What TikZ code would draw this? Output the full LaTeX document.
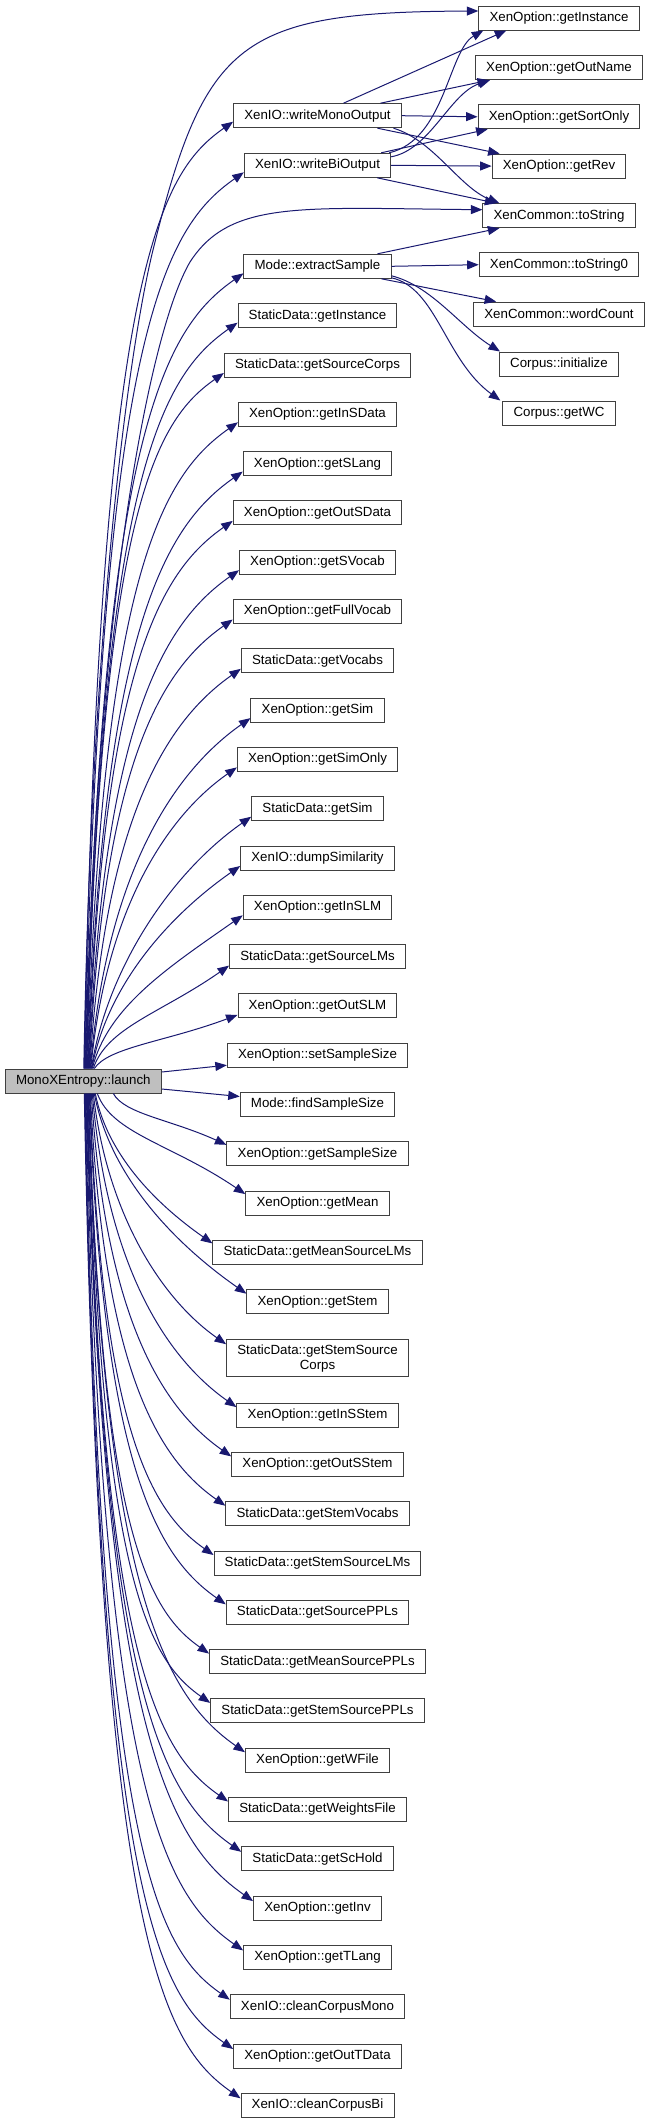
\documentclass[tikz,border=0pt]{standalone}
\usepackage{fontspec}
\setmainfont{Liberation Sans}
\usetikzlibrary{arrows.meta,calc}
\definecolor{callblue}{HTML}{191970}

\begin{document}
\begin{tikzpicture}[
  x=1pt, y=-1pt,
  fn/.style={rectangle, draw=black!75, line width=1pt, fill=white,
    font=\fontsize{13.3}{15}\selectfont, inner xsep=10.7pt, inner ysep=4.9pt,
    minimum height=24pt, align=center},
  root/.style={fn, fill=black!25},
  call/.style={draw=callblue, line width=1pt, -{Triangle[length=11.5pt, width=9pt]}},
  upcall/.style={to path={let \p1=(\tikztostart), \p2=(\tikztotarget) in
    .. controls ({\x1+0.1*(\x2-(\x1))}, {\y1+max(\y2-(\y1)-(\x2-(\x1)), 0.4*(\y2-(\y1)))})
    and ({\x2-0.5*(\x2-(\x1))}, {\y2-min(0.35*(\x2-(\x1)), 0.5*(\y2-(\y1)))}) .. (\p2)}},
  downcall/.style={to path={let \p1=(\tikztostart), \p2=(\tikztotarget) in
    .. controls ({\x1+0.1*(\x2-(\x1))}, {\y1-max(\y1-(\y2)-(\x2-(\x1)), 0.4*(\y1-(\y2)))})
    and ({\x2-0.5*(\x2-(\x1))}, {\y2+min(0.35*(\x2-(\x1)), 0.5*(\y1-(\y2)))}) .. (\p2)}}
]
\useasboundingbox (0,0) rectangle (650,2123);

% Caller
\node[root] (launch) at (83.3, 1081) {MonoXEntropy::launch};

% Right column
\node[fn] (xoInst) at (559, 18) {XenOption::getInstance};
\node[fn] (xoOutName) at (559, 67.7) {XenOption::getOutName};
\node[fn] (xoSort) at (559, 116.8) {XenOption::getSortOnly};
\node[fn] (xoRev) at (559, 166.1) {XenOption::getRev};
\node[fn] (xcStr) at (559, 215.7) {XenCommon::toString};
\node[fn] (xcStr0) at (559, 264.7) {XenCommon::toString0};
\node[fn] (xcWords) at (559, 314.1) {XenCommon::wordCount};
\node[fn] (cpInit) at (559, 364) {Corpus::initialize};
\node[fn] (cpWC) at (559, 413) {Corpus::getWC};

% Middle column
\node[fn] (ioMono) at (317.5, 115.7) {XenIO::writeMonoOutput};
\node[fn] (ioBi) at (317.5, 165.3) {XenIO::writeBiOutput};
\node[fn] (mdExtract) at (317.5, 266.3) {Mode::extractSample};
\node[fn] (sdInst) at (317.5, 315.7) {StaticData::getInstance};
\node[fn] (sdSrcCorps) at (317.5, 365.0) {StaticData::getSourceCorps};
\node[fn] (xoInSData) at (317.5, 414.3) {XenOption::getInSData};
\node[fn] (xoSLang) at (317.5, 463.6) {XenOption::getSLang};
\node[fn] (xoOutSData) at (317.5, 512.9) {XenOption::getOutSData};
\node[fn] (xoSVocab) at (317.5, 562.2) {XenOption::getSVocab};
\node[fn] (xoFullVocab) at (317.5, 611.5) {XenOption::getFullVocab};
\node[fn] (sdVocabs) at (317.5, 660.8) {StaticData::getVocabs};
\node[fn] (xoSim) at (317.5, 710.1) {XenOption::getSim};
\node[fn] (xoSimOnly) at (317.5, 759.4) {XenOption::getSimOnly};
\node[fn] (sdSim) at (317.5, 808.7) {StaticData::getSim};
\node[fn] (ioDumpSim) at (317.5, 858.0) {XenIO::dumpSimilarity};
\node[fn] (xoInSLM) at (317.5, 907.3) {XenOption::getInSLM};
\node[fn] (sdSrcLMs) at (317.5, 956.6) {StaticData::getSourceLMs};
\node[fn] (xoOutSLM) at (317.5, 1005.9) {XenOption::getOutSLM};
\node[fn] (xoSetSS) at (317.5, 1055.2) {XenOption::setSampleSize};
\node[fn] (mdFindSS) at (317.5, 1104.5) {Mode::findSampleSize};
\node[fn] (xoGetSS) at (317.5, 1153.8) {XenOption::getSampleSize};
\node[fn] (xoMean) at (317.5, 1203.1) {XenOption::getMean};
\node[fn] (sdMeanLMs) at (317.5, 1252.4) {StaticData::getMeanSourceLMs};
\node[fn] (xoStem) at (317.5, 1301.7) {XenOption::getStem};
\node[fn] (sdStemCorps) at (317.5, 1358.2) {StaticData::getStemSource\\Corps};
\node[fn] (xoInSStem) at (317.5, 1415.1) {XenOption::getInSStem};
\node[fn] (xoOutSStem) at (317.5, 1464.4) {XenOption::getOutSStem};
\node[fn] (sdStemVocabs) at (317.5, 1513.7) {StaticData::getStemVocabs};
\node[fn] (sdStemLMs) at (317.5, 1563.0) {StaticData::getStemSourceLMs};
\node[fn] (sdSrcPPLs) at (317.5, 1612.3) {StaticData::getSourcePPLs};
\node[fn] (sdMeanPPLs) at (317.5, 1661.6) {StaticData::getMeanSourcePPLs};
\node[fn] (sdStemPPLs) at (317.5, 1710.9) {StaticData::getStemSourcePPLs};
\node[fn] (xoWFile) at (317.5, 1760.2) {XenOption::getWFile};
\node[fn] (sdWFile) at (317.5, 1809.5) {StaticData::getWeightsFile};
\node[fn] (sdScHold) at (317.5, 1858.8) {StaticData::getScHold};
\node[fn] (xoInv) at (317.5, 1908.1) {XenOption::getInv};
\node[fn] (xoTLang) at (317.5, 1957.4) {XenOption::getTLang};
\node[fn] (ioCleanMono) at (317.5, 2006.7) {XenIO::cleanCorpusMono};
\node[fn] (xoOutTData) at (317.5, 2056.0) {XenOption::getOutTData};
\node[fn] (ioCleanBi) at (317.5, 2105.3) {XenIO::cleanCorpusBi};

% launch -> right column
\draw[call] ([xshift=0.5pt]launch.north) .. controls (92,600) and (132,335) .. (153,250)
  .. controls (205,40) and (240,12) .. ([yshift=7pt]xoInst.west);
\draw[call] ([xshift=2pt]launch.north) .. controls (96,600) and (150,330) .. (190,262)
  .. controls (230,200) and (300,208) .. ([yshift=6pt]xcStr.west);

% launch -> callees above it
\draw[call] ([xshift=1pt]launch.north) to[upcall] ([yshift=-6pt]ioMono.west);
\draw[call] ([xshift=1.5pt]launch.north) to[upcall] ([yshift=-7pt]ioBi.west);
\draw[call] ([xshift=2.5pt]launch.north) to[upcall] ([yshift=-7pt]mdExtract.west);
\draw[call] ([xshift=3pt]launch.north) to[upcall] ([yshift=-7pt]sdInst.west);
\draw[call] ([xshift=3.5pt]launch.north) to[upcall] ([yshift=-8pt]sdSrcCorps.west);
\draw[call] ([xshift=4pt]launch.north) to[upcall] ([yshift=-8pt]xoInSData.west);
\draw[call] ([xshift=4.5pt]launch.north) to[upcall] ([yshift=-8pt]xoSLang.west);
\draw[call] ([xshift=5pt]launch.north) to[upcall] ([yshift=-8pt]xoOutSData.west);
\draw[call] ([xshift=5.5pt]launch.north) to[upcall] ([yshift=-8pt]xoSVocab.west);
\draw[call] ([xshift=6pt]launch.north) to[upcall] ([yshift=-8pt]xoFullVocab.west);
\draw[call] ([xshift=6.5pt]launch.north) to[upcall] ([yshift=-8pt]sdVocabs.west);
\draw[call] ([xshift=7pt]launch.north) to[upcall] ([yshift=-8pt]xoSim.west);
\draw[call] ([xshift=7.5pt]launch.north) to[upcall] ([yshift=-8pt]xoSimOnly.west);
\draw[call] ([xshift=8pt]launch.north) to[upcall] ([yshift=-8pt]sdSim.west);
\draw[call] ([xshift=8.5pt]launch.north) to[upcall] ([yshift=-8pt]ioDumpSim.west);
\draw[call] ([xshift=9pt]launch.north) to[upcall] ([yshift=-8pt]xoInSLM.west);
\draw[call] ([xshift=10pt]launch.north) to[upcall] ([yshift=-9pt]sdSrcLMs.west);
\draw[call] ([xshift=11pt]launch.north) to[upcall] ([yshift=-9pt]xoOutSLM.west);
\draw[call] ([yshift=9pt]launch.east) -- ([yshift=-10pt]xoSetSS.west);

% launch -> callees below it
\draw[call] ([yshift=-8pt]launch.east) -- ([yshift=8pt]mdFindSS.west);
\draw[call] ([xshift=30pt]launch.south) to[downcall] ([yshift=9pt]xoGetSS.west);
\draw[call] ([xshift=14pt]launch.south) to[downcall] ([yshift=9pt]xoMean.west);
\draw[call] ([xshift=12pt]launch.south) to[downcall] ([yshift=9pt]sdMeanLMs.west);
\draw[call] ([xshift=11pt]launch.south) to[downcall] ([yshift=8pt]xoStem.west);
\draw[call] ([xshift=10pt]launch.south) to[downcall] ([yshift=14pt]sdStemCorps.west);
\draw[call] ([xshift=9pt]launch.south) to[downcall] ([yshift=8pt]xoInSStem.west);
\draw[call] ([xshift=8pt]launch.south) to[downcall] ([yshift=8pt]xoOutSStem.west);
\draw[call] ([xshift=7pt]launch.south) to[downcall] ([yshift=8pt]sdStemVocabs.west);
\draw[call] ([xshift=6.5pt]launch.south) to[downcall] ([yshift=8pt]sdStemLMs.west);
\draw[call] ([xshift=6pt]launch.south) to[downcall] ([yshift=8pt]sdSrcPPLs.west);
\draw[call] ([xshift=5.5pt]launch.south) to[downcall] ([yshift=8pt]sdMeanPPLs.west);
\draw[call] ([xshift=5pt]launch.south) to[downcall] ([yshift=8pt]sdStemPPLs.west);
\draw[call] ([xshift=4.5pt]launch.south) to[downcall] ([yshift=8pt]xoWFile.west);
\draw[call] ([xshift=4pt]launch.south) to[downcall] ([yshift=8pt]sdWFile.west);
\draw[call] ([xshift=3.5pt]launch.south) to[downcall] ([yshift=7pt]sdScHold.west);
\draw[call] ([xshift=3pt]launch.south) to[downcall] ([yshift=7pt]xoInv.west);
\draw[call] ([xshift=2.5pt]launch.south) to[downcall] ([yshift=7pt]xoTLang.west);
\draw[call] ([xshift=2pt]launch.south) to[downcall] ([yshift=7pt]ioCleanMono.west);
\draw[call] ([xshift=1.5pt]launch.south) to[downcall] ([yshift=7pt]xoOutTData.west);
\draw[call] ([xshift=1pt]launch.south) to[downcall] ([yshift=7pt]ioCleanBi.west);

% writeMonoOutput -> options
\draw[call] ([xshift=26pt]ioMono.north) -- ([xshift=28pt]xoInst.south west);
\draw[call] ([xshift=63pt]ioMono.north) -- ([xshift=14pt]xoOutName.south west);
\draw[call] (ioMono.east) -- (xoSort.west);
\draw[call] ([xshift=60pt]ioMono.south) -- ([xshift=8pt]xoRev.north west);
\draw[call] ([xshift=76pt]ioMono.south) .. controls +(40,12) and +(-40,-16)
  .. ([xshift=17pt]xcStr.north west);

% writeBiOutput -> options
\draw[call] ([xshift=-2pt]ioBi.north east) .. controls +(56,-13) and +(-35,20)
  .. ([xshift=5pt]xoInst.south west);
\draw[call] ([yshift=-4pt]ioBi.north east) .. controls +(39,-7) and +(-40,13)
  .. ([xshift=15pt]xoOutName.south west);
\draw[call] ([xshift=-10pt]ioBi.north east) -- ([xshift=10pt]xoSort.south west);
\draw[call] (ioBi.east) -- (xoRev.west);
\draw[call] ([xshift=-14pt]ioBi.south east) -- ([xshift=14pt]xcStr.north west);

% extractSample -> helpers
\draw[call] ([xshift=-14pt]mdExtract.north east) -- ([xshift=17pt]xcStr.south west);
\draw[call] (mdExtract.east) -- (xcStr0.west);
\draw[call] ([xshift=-10pt]mdExtract.south east) -- ([xshift=23pt]xcWords.north west);
\draw[call] ([yshift=3pt]mdExtract.south east) .. controls +(40,10) and +(-40,-25)
  .. ([xshift=1pt]cpInit.north west);
\draw[call] ([yshift=1pt]mdExtract.south east) .. controls +(45,10) and +(-55,-40)
  .. ([xshift=-2pt]cpWC.north west);

\end{tikzpicture}
\end{document}
